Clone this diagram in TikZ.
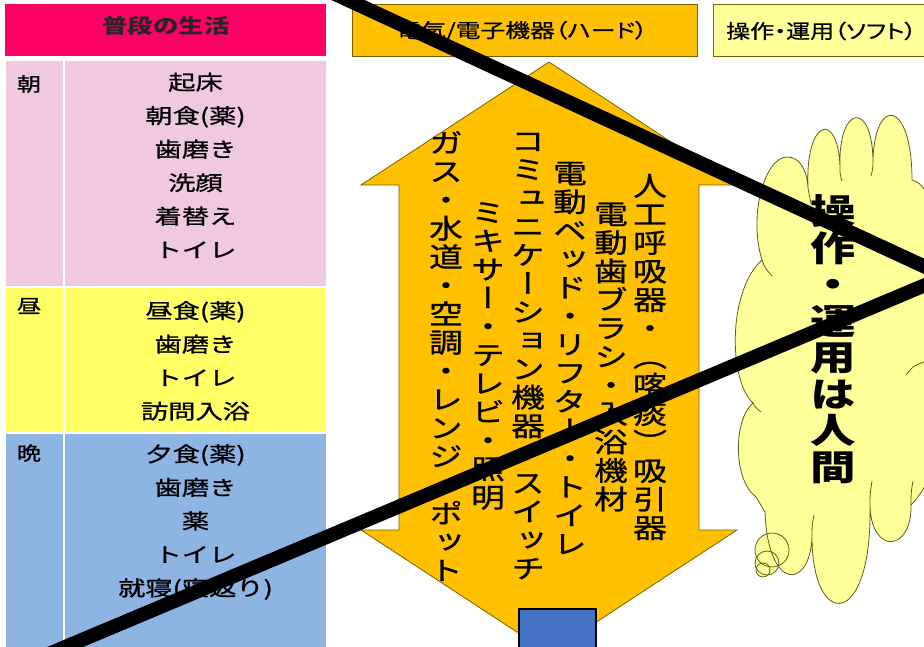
\documentclass[tikz,border=0pt]{standalone}
\usepackage{fontspec}
\usepackage{graphicx}
\setmainfont{Noto Sans CJK JP}
\newfontfamily\jpm[FakeBold=0.8]{Noto Sans CJK JP}
\newfontfamily\vjp[RawFeature=+vert,FakeBold=0.8]{Noto Sans CJK JP}
\newfontfamily\vjpb[RawFeature=+vert]{Noto Sans CJK JP}
\newfontfamily\pjp[RawFeature=+palt,FakeBold=0.6]{Noto Sans CJK JP}
\definecolor{hdrpink}{HTML}{FF0066}
\definecolor{gold}{HTML}{FFC000}
\definecolor{goldedge}{HTML}{7F6000}
\definecolor{lightyel}{HTML}{FFFF99}
\definecolor{rowpink}{HTML}{F0C8E2}
\definecolor{rowyel}{HTML}{FFFF66}
\definecolor{rowblue}{HTML}{8EB4E3}
\definecolor{boxblue}{HTML}{4472C4}
\definecolor{cloudedge}{HTML}{5E5E22}
\makeatletter
\newcommand\tate[3]{\vbox{\baselineskip=#1\lineskip=0pt\lineskiplimit=-1000pt
  \@tfor\tch:=#3\do{\hbox to #2{\hss\tch\hss}}}}
\makeatother
\tikzset{
  cellbox/.style={fill=#1, draw=none},
  hdrbox/.style={fill=#1, draw=goldedge, line width=0.8pt},
  tabtext/.style={font=\jpm\fontsize{20.5}{33.5}\selectfont, text=black, inner sep=0pt},
  labtext/.style={font=\jpm\fontsize{19}{19}\selectfont, text=black, inner sep=0pt},
  vcol/.style={font=\vjp\fontsize{27}{27}\selectfont, text=black, inner sep=0pt},
  strike/.style={draw=black, line width=14pt},
  cloudline/.style={draw=cloudedge, line width=0.8pt}
}
\begin{document}
\begin{tikzpicture}[x=1pt,y=-1pt]
\useasboundingbox (0,0) rectangle (924,646);
\clip (0,0) rectangle (924,646);
\fill[white] (0,0) rectangle (924,646);

% ---- header boxes
\fill[hdrpink] (5,4) rectangle (326,56);
\node[font=\bfseries\fontsize{20}{20}\selectfont, text=black!85, inner sep=0pt] (h1) at (166,26) {\scalebox{1.27}[1]{普段の生活}};
\path[hdrbox=gold] (352,4) rectangle (697,56);
\node[font=\pjp\fontsize{19.5}{19.5}\selectfont, text=black, inner sep=0pt] (h2) at (522,31) {\scalebox{1.27}[1]{電気/電子機器（ハード）}};
\path[hdrbox=lightyel] (713,4) rectangle (960,56);
\node[font=\pjp\fontsize{19.5}{19.5}\selectfont, text=black, inner sep=0pt, anchor=west] (h3) at (726,31) {\scalebox{1.23}[1]{操作・運用（ソフト）}};

% ---- table
\path[cellbox=rowpink] (6,61) rectangle (63,286);
\path[cellbox=rowpink] (65,61) rectangle (326,286);
\path[cellbox=rowyel] (6,288) rectangle (63,432);
\path[cellbox=rowyel] (65,288) rectangle (326,432);
\path[cellbox=rowblue] (6,434) rectangle (63,660);
\path[cellbox=rowblue] (65,434) rectangle (326,660);

\node[labtext] (l1) at (29,84) {\scalebox{1.27}[1]{朝}};
\node[labtext] (l2) at (29,306) {\scalebox{1.27}[1]{昼}};
\node[labtext] (l3) at (29,453) {\scalebox{1.27}[1]{晩}};

\node[tabtext] (t1) at (195.5,167) {\scalebox{1.33}[1]{\begin{tabular}{@{}c@{}}起床\\朝食(薬)\\歯磨き\\洗顔\\着替え\\トイレ\end{tabular}}};
\node[tabtext] (t2) at (195.5,362) {\scalebox{1.33}[1]{\begin{tabular}{@{}c@{}}昼食(薬)\\歯磨き\\トイレ\\訪問入浴\end{tabular}}};
\node[tabtext] (t3) at (195.5,522) {\scalebox{1.33}[1]{\begin{tabular}{@{}c@{}}夕食(薬)\\歯磨き\\薬\\トイレ\\就寝(寝返り)\end{tabular}}};

% ---- double arrow
\draw[fill=gold, draw=goldedge, line width=0.8pt] (549,62) -- (737,185) -- (699,185) -- (699,530) -- (737,530) -- (549,653) -- (361,530) -- (399,530) -- (399,185) -- (361,185) -- cycle;

\node[vcol] (c1) at (650,357) {\scalebox{1.25}[1]{\tate{28.5pt}{1em}{人工呼吸器・（喀痰）吸引器}}};
\node[vcol] (c2) at (611,357) {\scalebox{1.25}[1]{\tate{28.5pt}{1em}{電動歯ブラシ・入浴機材}}};
\node[vcol] (c3) at (570,358) {\scalebox{1.25}[1]{\tate{28.5pt}{1em}{電動ベッド・リフター・トイレ}}};
\node[vcol] (c4) at (528,356) {\scalebox{1.25}[1]{\tate{28.5pt}{1em}{コミュニケーション機器・スイッチ}}};
\node[vcol] (c5) at (488,356) {\scalebox{1.25}[1]{\tate{28.5pt}{1em}{ミキサー・テレビ・照明}}};
\node[vcol] (c6) at (446,356) {\scalebox{1.25}[1]{\tate{28.5pt}{1em}{ガス・水道・空調・レンジ・ポット}}};

\node[draw=black, line width=2pt, fill=boxblue, minimum width=77pt, minimum height=60pt, anchor=north west, inner sep=0pt] (bb) at (518,608) {};

% ---- cloud
\def\cloudpath{(762,260)
 .. controls (748,215) and (765,157) .. (787,157)
 .. controls (800,157) and (807,170) .. (808,188)
 .. controls (805,118) and (838,110) .. (840,167)
 .. controls (838,105) and (872,100) .. (873,160)
 .. controls (875,95) and (912,100) .. (912,180)
 .. controls (935,185) and (940,240) .. (921,268)
 .. controls (945,290) and (948,340) .. (924,362)
 .. controls (950,400) and (945,470) .. (911,505)
 .. controls (912,552) and (872,555) .. (870,507)
 .. controls (872,630) and (812,630) .. (812,537)
 .. controls (810,590) and (768,592) .. (765,512)
 -- (756,497)
 .. controls (733,480) and (733,420) .. (753,403)
 .. controls (728,380) and (728,290) .. (762,260) -- cycle}
\fill[lightyel] \cloudpath;
\fill[lightyel] (772,550) circle[radius=17];
\fill[lightyel] (767,563) circle[radius=12];
\fill[lightyel] (763,570) circle[radius=7];
\draw[cloudline] \cloudpath;
\draw[cloudline] (772,550) circle[radius=17];
\draw[cloudline] (767,563) circle[radius=12];
\draw[cloudline] (763,570) circle[radius=7];
\draw[cloudline] (808,188) .. controls (809,196) .. (811,204);
\draw[cloudline] (840,167) .. controls (840,174) .. (842,181);
\draw[cloudline] (873,160) .. controls (873,168) .. (871,176);
\draw[cloudline] (762,260) .. controls (765,268) .. (772,276);
\draw[cloudline] (753,403) .. controls (756,408) .. (761,412);
\draw[cloudline] (812,537) .. controls (812,526) .. (814,515);
\draw[cloudline] (870,507) .. controls (870,494) .. (872,481);
\draw[cloudline] (911,505) .. controls (911,493) .. (913,481);
\draw[cloudline] (924,362) .. controls (913,366) .. (906,375);

\node[font=\vjpb\bfseries\fontsize{35}{35}\selectfont, text=black, inner sep=0pt] (ct) at (833,339) {\scalebox{1.3}[1]{\tate{36.5pt}{1em}{操作・運用は人間}}};

% ---- strike-through lines
\coordinate (s1a) at (330,-8.3);
\coordinate (s1b) at (950,278.3);
\coordinate (s2a) at (40,657.6);
\coordinate (s2b) at (950,274.6);
\draw[strike] (s1a) -- (s1b);
\draw[strike] (s2a) -- (s2b);
\end{tikzpicture}
\end{document}
